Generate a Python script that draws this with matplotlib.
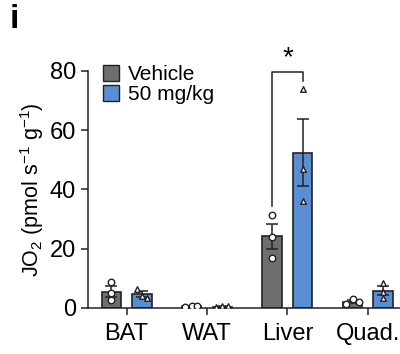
import matplotlib
matplotlib.use('Agg')
import matplotlib.pyplot as plt
from matplotlib.patches import Patch
import numpy as np

plt.rcParams['font.family'] = ['Liberation Sans', 'DejaVu Sans']
plt.rcParams['mathtext.fontset'] = 'custom'
plt.rcParams['mathtext.rm'] = 'Liberation Sans'
plt.rcParams['mathtext.it'] = 'Liberation Sans:italic'

tissues = ['BAT', 'WAT', 'Liver', 'Quad.']
veh_pts = [[8.8, 5.0, 2.8], [0.3, 0.7, 0.6], [31.5, 24.0, 17.0], [1.5, 3.0, 2.0]]
drug_pts = [[6.5, 4.0, 3.2], [0.2, 0.5, 0.5], [74.0, 47.0, 36.0], [8.5, 5.5, 3.5]]
veh_jit = [[0, 0, 0], [-0.08, 0.0, 0.07], [0, 0, 0], [-0.08, 0.0, 0.08]]
drug_jit = [[-0.06, 0, 0.06], [-0.08, 0.0, 0.07], [0, 0, 0], [0, 0, 0]]

veh_color = '#6e6e6e'
drug_color = '#5a8ed3'
edge = '#222222'

fig = plt.figure(figsize=(4.0, 3.54), dpi=100)
ax = fig.add_axes([0.22, 0.13, 0.80, 0.67])

x = np.arange(len(tissues))
w = 0.24
off = 0.19

def mean_sem(pts):
    a = np.array(pts)
    return a.mean(), a.std(ddof=1) / np.sqrt(len(a))

for i in range(len(tissues)):
    for pts, jit, dx, col, mk in [(veh_pts[i], veh_jit[i], -off, veh_color, 'o'),
                                  (drug_pts[i], drug_jit[i], off, drug_color, '^')]:
        m, s = mean_sem(pts)
        ax.bar(x[i] + dx, m, width=w, color=col, edgecolor=edge, linewidth=1.2, zorder=2)
        ax.errorbar(x[i] + dx, m, yerr=s, color=edge, capsize=4.5, elinewidth=1.1, capthick=1.1, zorder=3)
        ax.scatter(x[i] + dx + np.array(jit), pts, marker=mk, s=22 if mk == 'o' else 16,
                   facecolor='white', edgecolor=edge, linewidth=1.0, zorder=4)

# significance bracket for Liver
lx0 = x[2] - off
lx1 = x[2] + off
ax.plot([lx0, lx0, lx1, lx1], [34.5, 79.5, 79.5, 76.5], color=edge, lw=1.1, clip_on=False)
ax.text(x[2], 80.0, '*', ha='center', va='bottom', fontsize=20, clip_on=False)

ax.set_xlim(-0.48, 3.5)
ax.set_ylim(0, 80)
ax.set_yticks([0, 20, 40, 60, 80])
ax.set_xticks(x)
ax.set_xticklabels(tissues)
ax.tick_params(axis='both', labelsize=17, width=1.1, length=5, color=edge)
ax.tick_params(axis='x', pad=6)
ax.spines['top'].set_visible(False)
ax.spines['right'].set_visible(False)
for sp in ['left', 'bottom']:
    ax.spines[sp].set_color(edge)
    ax.spines[sp].set_linewidth(1.1)
ax.set_ylabel('JO$_2$ (pmol s$^{-1}$ g$^{-1}$)', fontsize=15.5, labelpad=3)

handles = [Patch(facecolor=veh_color, edgecolor=edge, label='Vehicle'),
           Patch(facecolor=drug_color, edgecolor=edge, label='50 mg/kg')]
ax.legend(handles=handles, loc='upper left', bbox_to_anchor=(0.02, 1.06), frameon=False,
          fontsize=15, handlelength=0.8, handleheight=0.8, handletextpad=0.4,
          labelspacing=0.05, borderaxespad=0)

fig.text(0.025, 0.99, 'i', fontsize=24, fontweight='bold', va='top')

fig.savefig('out.png', dpi=100)
